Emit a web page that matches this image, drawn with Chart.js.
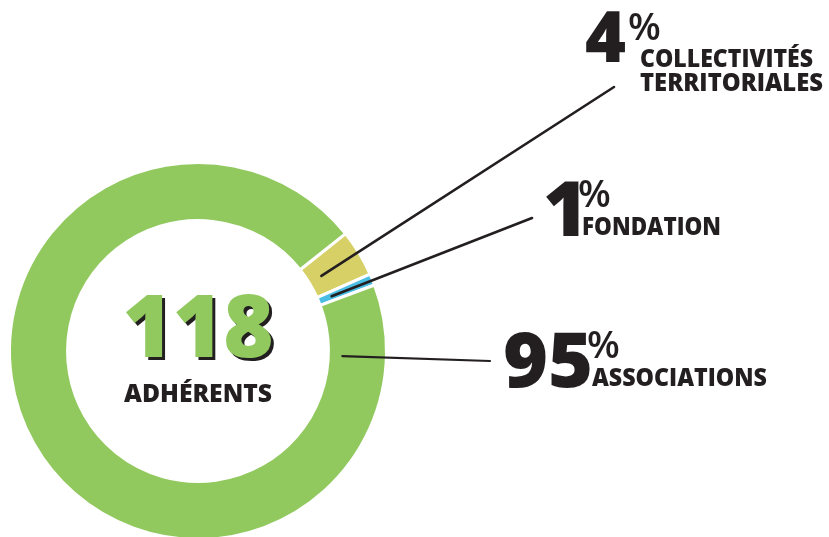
<!DOCTYPE html>
<html>
<head>
<meta charset="utf-8">
<script src="https://cdn.jsdelivr.net/npm/chart.js@4.4.1/dist/chart.umd.min.js"></script>
<style>
    html, body { margin: 0; padding: 0; background: #fff; overflow: hidden; }
    #wrap { position: absolute; left: 0; top: 0; width: 829px; height: 560px; }
</style>
</head>
<body>
<div id="wrap"><canvas id="chart"></canvas></div>
<script>
const categories = [['COLLECTIVITÉS', 'TERRITORIALES'], ['FONDATION'], ['ASSOCIATIONS']];
const shares = [4, 1, 95];
const sliceColors = ['#d6d067', '#4bbde3', '#91c95f'];
const totalMembers = 118;
const totalLabel = 'ADHÉRENTS';

const INK = '#231f20';
const FONT = '"Open Sans", "Lato", "DejaVu Sans", sans-serif';

// where each callout sits (label layout, not data)
const calloutLayout = [
    { anchorDeg: null, end: [614, 87], numX: 585, numBase: 62, numSize: 70, pctX: 628, pctBase: 40, textX: 640, textBase: [67, 91], textW: [173, 183] },
    { anchorDeg: null, end: [532, 218], numX: 543, numBase: 236, numSize: 77, pctX: 578, pctBase: 207, textX: 582, textBase: [235], textW: [139] },
    { anchorDeg: 92, end: [490, 361], numX: 503, numBase: 387, numSize: 77, pctX: 587, pctBase: 358, textX: 592, textBase: [386], textW: [175] }
];

const calloutPlugin = {
    id: 'callouts',
    afterDatasetsDraw(chart) {
        const ctx = chart.ctx;
        const arcs = chart.getDatasetMeta(0).data;
        ctx.save();
        ctx.strokeStyle = INK;
        ctx.lineCap = 'round';
        arcs.forEach((arc, i) => {
            const layout = calloutLayout[i];
            const angle = layout.anchorDeg === null
                ? (arc.startAngle + arc.endAngle) / 2
                : (layout.anchorDeg - 90) * Math.PI / 180;
            const r = arc.innerRadius + 14;
            ctx.lineWidth = i === 2 ? 2.2 : 2.6;
            ctx.beginPath();
            ctx.moveTo(arc.x + Math.cos(angle) * r, arc.y + Math.sin(angle) * r);
            ctx.lineTo(layout.end[0], layout.end[1]);
            ctx.stroke();
        });
        ctx.restore();
    },
    afterDraw(chart) {
        const ctx = chart.ctx;
        const arc0 = chart.getDatasetMeta(0).data[0];
        ctx.save();
        ctx.textBaseline = 'alphabetic';

        calloutLayout.forEach((layout, i) => {
            ctx.fillStyle = INK;
            ctx.textAlign = 'left';
            ctx.font = `800 ${layout.numSize}px ${FONT}`;
            ctx.fillText(String(shares[i]), layout.numX, layout.numBase);
            ctx.font = `600 38px ${FONT}`;
            ctx.fillText('%', layout.pctX, layout.pctBase);
            ctx.font = `800 25px ${FONT}`;
            categories[i].forEach((line, j) => {
                ctx.fillText(line, layout.textX, layout.textBase[j], layout.textW[j]);
            });
        });

        // centre total
        const cx = arc0.x;
        ctx.textAlign = 'center';
        ctx.font = `800 86px ${FONT}`;
        ctx.fillStyle = INK;
        ctx.fillText(String(totalMembers), cx + 3, 360, 152);
        ctx.fillStyle = sliceColors[2];
        ctx.fillText(String(totalMembers), cx, 357, 152);
        ctx.fillStyle = INK;
        ctx.font = `800 25px ${FONT}`;
        ctx.fillText(totalLabel, cx, 402, 148);
        ctx.restore();
    }
};

new Chart(document.getElementById('chart'), {
    type: 'doughnut',
    data: {
        labels: categories.map((c) => c.join(' ')),
        datasets: [{
            data: shares,
            backgroundColor: sliceColors,
            borderColor: '#ffffff',
            borderWidth: 3,
            hoverOffset: 0
        }]
    },
    options: {
        responsive: true,
        maintainAspectRatio: false,
        animation: false,
        rotation: 51.5,
        cutout: '69.2%',
        layout: { padding: { left: 8, top: 161, right: 441, bottom: 19 } },
        events: [],
        plugins: {
            legend: { display: false },
            tooltip: { enabled: false }
        }
    },
    plugins: [calloutPlugin]
});
</script>
</body>
</html>
